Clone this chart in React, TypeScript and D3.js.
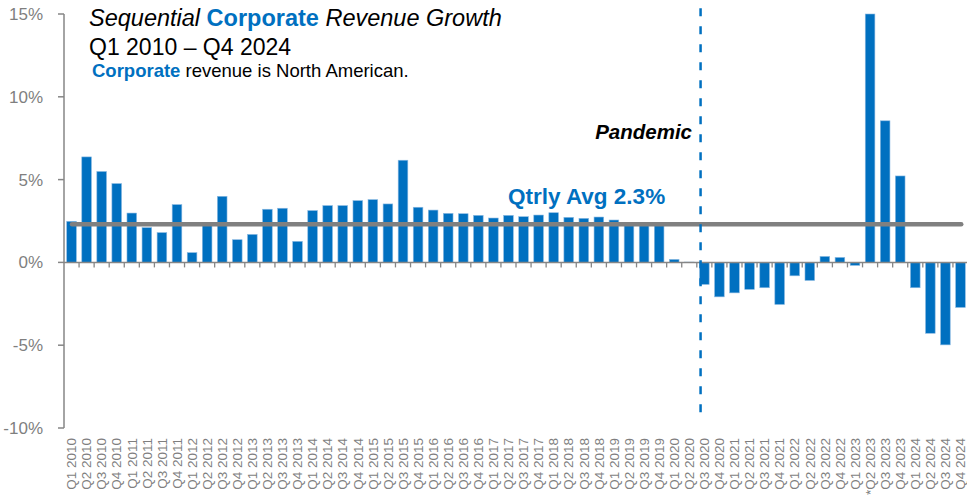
import React from "react";
import * as d3 from "d3";

const quarters: string[] = [];
for (let yr = 2010; yr <= 2024; yr++) {
  for (let q = 1; q <= 4; q++) quarters.push(`Q${q} ${yr}`);
}
const tickLabels: string[] = quarters.map((q) => (q === "Q2 2023" ? "*Q2 2023" : q));

const growth: number[] = [
  2.48, 6.37, 5.49, 4.76, 2.98, 2.1, 1.8, 3.49, 0.59, 2.3,
  3.99, 1.37, 1.69, 3.21, 3.27, 1.27, 3.13, 3.43, 3.43, 3.73,
  3.79, 3.53, 6.17, 3.33, 3.16, 2.96, 2.94, 2.84, 2.68, 2.84,
  2.76, 2.86, 3.0, 2.72, 2.66, 2.74, 2.56, 2.4, 2.35, 2.3,
  0.18, 0.02, -1.33, -2.08, -1.84, -1.63, -1.53, -2.54, -0.81, -1.09,
  0.36, 0.3, -0.18, 15.0, 8.55, 5.22, -1.53, -4.28, -4.98, -2.72,
];

const yTicks: number[] = [15, 10, 5, 0, -5, -10];
const avgValue = 2.3;
const pandemicQuarter = "Q3 2020";

const W = 967;
const H = 497;
const FONT = "'Liberation Sans', Arial, sans-serif";
const BLUE = "#0070C0";
const GRAY = "#868686";

export default function App() {
  const x = d3.scaleBand<string>().domain(quarters).range([64, 968]).padding(0);
  const step = x.bandwidth();
  const barW = step * 0.64;
  const y = d3.scaleLinear().domain([-10, 15]).range([428, 14]);
  const y0 = y(0);

  const pandemicX = (x(pandemicQuarter) as number) + step * 0.25;

  return (
    <svg
      width={W}
      height={H}
      style={{ position: "absolute", left: 0, top: 0, background: "#fff" }}
      fontFamily={FONT}
    >
      {/* y axis */}
      <line x1={64} x2={64} y1={y(15)} y2={y(-10)} stroke={GRAY} strokeWidth={1.5} />
      {yTicks.map((t) => (
        <g key={t}>
          <line x1={58} x2={64} y1={y(t)} y2={y(t)} stroke={GRAY} strokeWidth={1.5} />
          <text x={43} y={y(t)} dy="0.35em" textAnchor="end" fontSize={17} fill="#7f7f7f">
            {`${t}%`}
          </text>
        </g>
      ))}

      {/* bars */}
      {growth.map((v, i) => {
        const bx = (x(quarters[i]) as number) + (step - barW) / 2;
        const top = Math.min(y(v), y0);
        const h = Math.abs(y(v) - y0);
        return (
          <rect
            key={quarters[i]}
            x={bx}
            y={top}
            width={barW}
            height={h}
            fill={BLUE}
            stroke="#8ab9e2"
            strokeWidth={0.6}
          />
        );
      })}

      {/* zero axis with category ticks */}
      <line x1={64} x2={W} y1={y0} y2={y0} stroke={GRAY} strokeWidth={1.5} />
      {quarters.slice(1).map((q) => (
        <line
          key={`t${q}`}
          x1={x(q) as number}
          x2={x(q) as number}
          y1={y0}
          y2={y0 + 5}
          stroke={GRAY}
          strokeWidth={1.3}
        />
      ))}

      {/* average line */}
      <line
        x1={(x(quarters[0]) as number) + 8}
        x2={(x(quarters[quarters.length - 1]) as number) + step * 0.55}
        y1={y(avgValue)}
        y2={y(avgValue)}
        stroke="#808080"
        strokeWidth={4.5}
        strokeLinecap="round"
      />
      <text x={508} y={204} fontSize={22.5} fontWeight="bold" fill={BLUE}>
        {`Qtrly Avg ${avgValue}%`}
      </text>

      {/* pandemic marker */}
      <line
        x1={pandemicX}
        x2={pandemicX}
        y1={y(15.35)}
        y2={y(-9.6)}
        stroke={BLUE}
        strokeWidth={2.5}
        strokeDasharray="8 10"
      />
      <text
        x={692}
        y={139}
        textAnchor="end"
        fontSize={20.5}
        fontWeight="bold"
        fontStyle="italic"
        fill="#000"
      >
        Pandemic
      </text>

      {/* x labels */}
      {tickLabels.map((lab, i) => {
        const cx = (x(quarters[i]) as number) + step / 2;
        return (
          <text
            key={`l${i}`}
            transform={`translate(${cx},438) rotate(-90)`}
            textAnchor="end"
            dy="0.35em"
            fontSize={13.5}
            fill="#7f7f7f"
          >
            {lab}
          </text>
        );
      })}

      {/* titles */}
      <text x={89} y={26} fontSize={23.5} fill="#000">
        <tspan fontStyle="italic">Sequential </tspan>
        <tspan fontWeight="bold" fill={BLUE}>Corporate</tspan>
        <tspan fontStyle="italic"> Revenue Growth</tspan>
      </text>
      <text x={89} y={55} fontSize={23} fill="#000">
        Q1 2010 – Q4 2024
      </text>
      <text x={92} y={77} fontSize={18.5} fill="#000">
        <tspan fontWeight="bold" fill={BLUE}>Corporate</tspan>
        <tspan> revenue is North American.</tspan>
      </text>
    </svg>
  );
}
